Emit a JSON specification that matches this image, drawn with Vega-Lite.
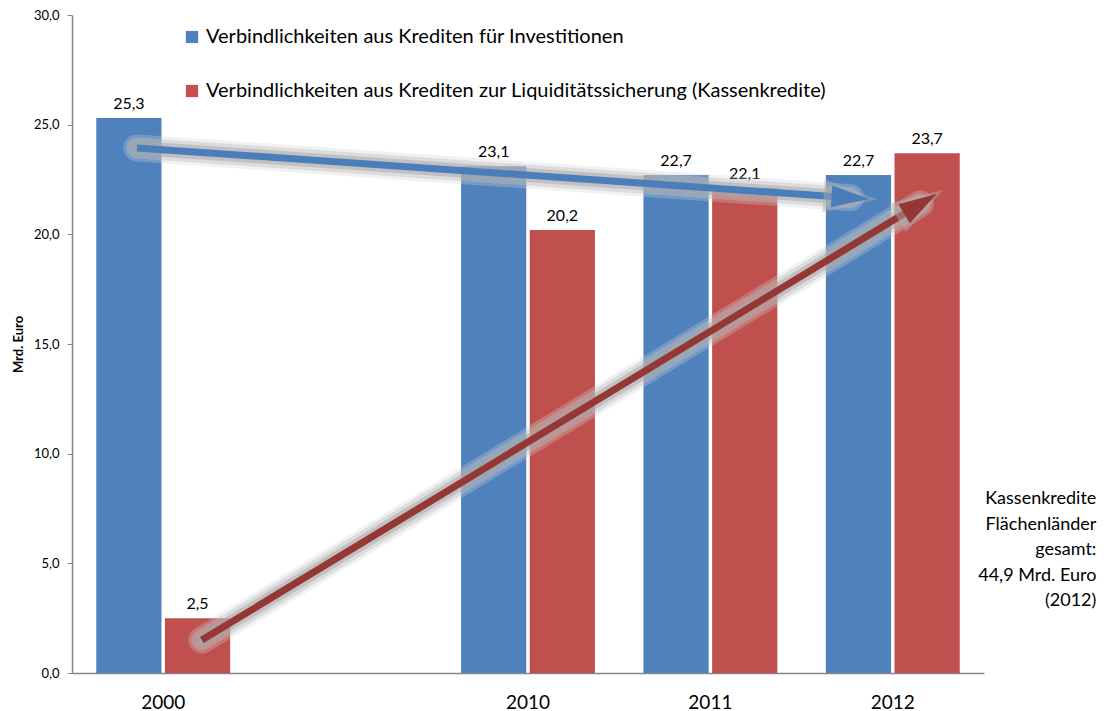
{
  "$schema": "https://vega.github.io/schema/vega-lite/v6.json",
  "width": 912,
  "height": 658,
  "autosize": {"type": "none"},
  "padding": {"left": 72, "top": 15, "right": 133, "bottom": 38},
  "config": {
    "locale": {"number": {"decimal": ",", "thousands": ".", "grouping": [3], "currency": ["", " €"]}},
    "view": {"stroke": null},
    "font": "Lato",
    "axis": {"grid": false, "domainColor": "#868686", "tickColor": "#868686", "labelColor": "#000000", "labelFont": "Lato"},
    "legend": {"labelFont": "Lato"}
  },
  "resolve": {"scale": {"x": "independent"}, "axis": {"x": "independent"}},
  "layer": [
    {
      "data": {
        "values": [
          {"year": "2000", "series": "Verbindlichkeiten aus Krediten für Investitionen", "value": 25.3},
          {"year": "2000", "series": "Verbindlichkeiten aus Krediten zur Liquiditätssicherung (Kassenkredite)", "value": 2.5},
          {"year": "2010", "series": "Verbindlichkeiten aus Krediten für Investitionen", "value": 23.1},
          {"year": "2010", "series": "Verbindlichkeiten aus Krediten zur Liquiditätssicherung (Kassenkredite)", "value": 20.2},
          {"year": "2011", "series": "Verbindlichkeiten aus Krediten für Investitionen", "value": 22.7},
          {"year": "2011", "series": "Verbindlichkeiten aus Krediten zur Liquiditätssicherung (Kassenkredite)", "value": 22.1},
          {"year": "2012", "series": "Verbindlichkeiten aus Krediten für Investitionen", "value": 22.7},
          {"year": "2012", "series": "Verbindlichkeiten aus Krediten zur Liquiditätssicherung (Kassenkredite)", "value": 23.7}
        ]
      },
      "encoding": {
        "x": {
          "field": "year", "type": "nominal",
          "scale": {"domain": ["2000", " ", "2010", "2011", "2012"], "paddingInner": 0.266, "paddingOuter": 0.133},
          "axis": {"title": null, "labelAngle": 0, "ticks": false, "labelFontSize": 19, "labelPadding": 20, "domainWidth": 1.5}
        },
        "xOffset": {
          "field": "series", "type": "nominal",
          "scale": {"domain": ["Verbindlichkeiten aus Krediten für Investitionen", "Verbindlichkeiten aus Krediten zur Liquiditätssicherung (Kassenkredite)"], "paddingInner": 0.05, "paddingOuter": 0}
        },
        "y": {
          "field": "value", "type": "quantitative",
          "scale": {"domain": [0, 30], "nice": false},
          "axis": {"title": "Mrd. Euro", "titleFontSize": 13, "titleFontWeight": "bold", "titlePadding": 8, "format": ".1f", "values": [0, 5, 10, 15, 20, 25, 30], "tickSize": 5, "labelFontSize": 13, "labelPadding": 8, "domainWidth": 1.5}
        }
      },
      "layer": [
        {
          "mark": {"type": "bar"},
          "encoding": {
            "color": {
              "field": "series", "type": "nominal",
              "scale": {"domain": ["Verbindlichkeiten aus Krediten für Investitionen", "Verbindlichkeiten aus Krediten zur Liquiditätssicherung (Kassenkredite)"], "range": ["#4F81BD", "#C0504D"]},
              "legend": {"title": null, "orient": "none", "legendX": 110, "legendY": 12, "symbolType": "square", "symbolSize": 150, "symbolStrokeWidth": 0, "labelFontSize": 20, "labelOffset": 4, "rowPadding": 34, "labelLimit": 800}
            }
          }
        },
        {
          "mark": {"type": "text", "baseline": "bottom", "dy": -6, "fontSize": 16, "color": "#000000"},
          "encoding": {"text": {"field": "value", "type": "quantitative", "format": ".1f"}}
        }
      ]
    },
    {
      "data": {
        "values": [
          {"arrow": "Investitionen", "x": 0.356, "y": 23.94, "x2": 4.268, "y2": 21.67},
          {"arrow": "Kassenkredite", "x": 0.712, "y": 1.5, "x2": 4.651, "y2": 21.39}
        ]
      },
      "encoding": {
        "x": {"field": "x", "type": "quantitative", "scale": {"domain": [0, 5], "nice": false, "zero": false}, "axis": null},
        "y": {"field": "y", "type": "quantitative"}
      },
      "layer": [
        {
          "mark": {"type": "rule", "strokeWidth": 27, "strokeCap": "round", "color": "#d0d0d0", "opacity": 0.3},
          "encoding": {"x2": {"field": "x2"}, "y2": {"field": "y2"}}
        },
        {
          "mark": {"type": "rule", "strokeWidth": 21, "strokeCap": "round", "color": "#bdbdbd", "opacity": 0.4},
          "encoding": {"x2": {"field": "x2"}, "y2": {"field": "y2"}}
        },
        {
          "mark": {"type": "rule", "strokeWidth": 14, "strokeCap": "round", "color": "#a6a6a6", "opacity": 0.5},
          "encoding": {"x2": {"field": "x2"}, "y2": {"field": "y2"}}
        },
        {
          "mark": {"type": "rule", "strokeWidth": 7, "strokeCap": "butt"},
          "encoding": {
            "x2": {"field": "x2"}, "y2": {"field": "y2"},
            "stroke": {"field": "arrow", "type": "nominal", "scale": {"domain": ["Investitionen", "Kassenkredite"], "range": ["#4A7EBB", "#953735"]}, "legend": null}
          }
        },
        {
          "transform": [{"filter": "datum.arrow == 'Investitionen'"}],
          "mark": {"type": "point", "shape": "M0,-1L0.62,1L-0.62,1Z", "size": 2900, "angle": 94, "filled": true, "color": "#b0b0b0", "opacity": 0.45},
          "encoding": {"x": {"field": "x2", "type": "quantitative"}, "y": {"field": "y2", "type": "quantitative"}}
        },
        {
          "transform": [{"filter": "datum.arrow == 'Investitionen'"}],
          "mark": {"type": "point", "shape": "M0,-1L0.58,1L-0.58,1Z", "size": 1444, "angle": 94, "filled": true, "opacity": 1, "color": "#4A7EBB"},
          "encoding": {"x": {"field": "x2", "type": "quantitative"}, "y": {"field": "y2", "type": "quantitative"}}
        },
        {
          "transform": [{"filter": "datum.arrow == 'Kassenkredite'"}],
          "mark": {"type": "point", "shape": "M0,-1L0.62,1L-0.62,1Z", "size": 2900, "angle": 58.7, "filled": true, "color": "#b0b0b0", "opacity": 0.45},
          "encoding": {"x": {"field": "x2", "type": "quantitative"}, "y": {"field": "y2", "type": "quantitative"}}
        },
        {
          "transform": [{"filter": "datum.arrow == 'Kassenkredite'"}],
          "mark": {"type": "point", "shape": "M0,-1L0.58,1L-0.58,1Z", "size": 1444, "angle": 58.7, "filled": true, "opacity": 1, "color": "#953735"},
          "encoding": {"x": {"field": "x2", "type": "quantitative"}, "y": {"field": "y2", "type": "quantitative"}}
        },
        {
          "data": {"values": [{"x": 5.616, "y": 7.7, "label": "Kassenkredite\nFlächenländer\ngesamt:\n44,9 Mrd. Euro\n(2012)"}]},
          "mark": {"type": "text", "align": "right", "baseline": "alphabetic", "fontSize": 18, "lineHeight": 25.5, "lineBreak": "\n", "color": "#000000", "clip": false},
          "encoding": {"x": {"field": "x", "type": "quantitative"}, "y": {"field": "y", "type": "quantitative"}, "text": {"field": "label"}}
        }
      ]
    }
  ]
}
